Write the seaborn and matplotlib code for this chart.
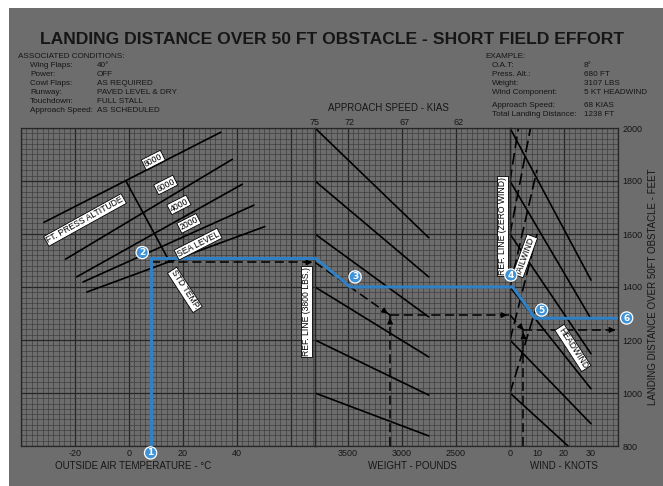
import numpy as np
import pandas as pd
import seaborn as sns
import matplotlib.pyplot as plt
from matplotlib.patches import Rectangle

# ---- values ----
temp_lim = (-40, 68.9)
weight_lim = (3800, 2000)
wind_lim = (0, 40)
dist_lim = (800, 2000)

alt_labels = ['8000', '6000', '4000', '2000', 'SEA LEVEL']
alt_t0 = [-31.5, -23.5, -19.4, -17.0, -15.6]
alt_d0 = [1644, 1505, 1438, 1419, 1381]
alt_t1 = [34.0, 38.3, 42.0, 46.3, 50.3]
alt_d1 = [1984, 1882, 1788, 1709, 1628]

std_temp_t = [-1.2, 15.0]
std_temp_d = [1801, 1496]

wt_d0 = [2000, 1800, 1600, 1400, 1200, 1000]
wt_w1 = 2750
wt_d1 = [1586, 1438, 1287, 1136, 992, 838]

head_d0 = [2000, 1800, 1600, 1400, 1200, 1000]
head_k1 = [30, 30, 30, 30, 30, 21.5]
head_d1 = [1426, 1280, 1148, 1016, 884, 800]

tail_d0 = [1800, 1600, 1400, 1200, 1000]
tail_k1 = [3.1, 7.6, 10, 10, 10]
tail_d1 = [2000, 2000, 1842, 1600, 1332]

temp_ticks = [-20, 0, 20, 40]
weight_ticks = [3500, 3000, 2500]
wind_ticks = [0, 10, 20, 30]
dist_ticks = [800, 1000, 1200, 1400, 1600, 1800, 2000]
kias_pos = [3800, 3480, 2975, 2475]
kias_labels = ['75', '72', '67', '62']

# worked example (dashed black) and plotted path (blue)
ex_oat, ex_weight, ex_wind = 8, 3107, 5
ex_d_temp, ex_d_weight, ex_d_total = 1493, 1294, 1238
blue_d_temp = 1510
blue_weight_knee = 3475
blue_d_weight = 1400
blue_wind_knee = [1, 9.3]
blue_d_total = 1282

conditions = [('Wing Flaps:', '40°'), ('Power:', 'OFF'), ('Cowl Flaps:', 'AS REQUIRED'),
              ('Runway:', 'PAVED LEVEL & DRY'), ('Touchdown:', 'FULL STALL'),
              ('Approach Speed:', 'AS SCHEDULED')]
example = [('O.A.T:', '8°'), ('Press. Alt.:', '680 FT'), ('Weight:', '3107 LBS'),
           ('Wind Component:', '5 KT HEADWIND')]
example2 = [('Approach Speed:', '68 KIAS'), ('Total Landing Distance:', '1238 FT')]

GREY = '#6d6d6d'
INK = '#161616'
BLUE = '#2f80c4'

sns.set_theme(style='white')
plt.rcParams['font.family'] = ['Liberation Sans', 'DejaVu Sans']
plt.rcParams['axes.unicode_minus'] = False

W, H = 663, 486
fig = plt.figure(figsize=(W / 100, H / 100), dpi=100)
fig.patch.set_facecolor('white')
fig.patches.append(Rectangle((9 / W, 0), 1, 1 - 8 / H, transform=fig.transFigure,
                             fc=GREY, ec='none', zorder=-10))

gs = fig.add_gridspec(1, 3, width_ratios=[294, 195, 108], left=21 / W, right=618 / W,
                      bottom=40 / H, top=358 / H, wspace=0)
ax_t = fig.add_subplot(gs[0])
ax_w = fig.add_subplot(gs[1], sharey=ax_t)
ax_k = fig.add_subplot(gs[2], sharey=ax_t)


def segments(x0, y0, x1, y1):
    rows = []
    for i, (a, b, c, d) in enumerate(zip(x0, y0, x1, y1)):
        rows += [dict(x=a, y=b, line=i), dict(x=c, y=d, line=i)]
    return pd.DataFrame(rows)


def grid(ax, major_x, minor_x):
    ax.vlines(minor_x, *dist_lim, color='#3a3a3a', lw=0.45, zorder=0)
    ax.vlines(major_x, *dist_lim, color='#262626', lw=0.9, zorder=0)
    ax.hlines(np.arange(800, 2001, 20), *ax.get_xlim(), color='#3a3a3a', lw=0.45, zorder=0)
    ax.hlines(np.arange(800, 2001, 200), *ax.get_xlim(), color='#262626', lw=0.9, zorder=0)


for ax, lim in [(ax_t, temp_lim), (ax_w, weight_lim), (ax_k, wind_lim)]:
    ax.set_facecolor(GREY)
    ax.set_xlim(*lim)
    ax.set_ylim(*dist_lim)
    for s in ax.spines.values():
        s.set_color('#262626')
        s.set_linewidth(0.9)
    ax.tick_params(length=0, labelsize=6.5, colors=INK, pad=2)

grid(ax_t, np.arange(-40, 69, 20), np.arange(-40, 69, 2))
grid(ax_w, np.arange(3500, 1999, -500), np.arange(3800, 1999, -50))
grid(ax_k, np.arange(0, 41, 20), np.arange(0, 41, 2))

line_kw = dict(estimator=None, units='line', sort=False, color='black', lw=1.2, legend=False)

# temperature panel
sns.lineplot(data=segments(alt_t0, alt_d0, alt_t1, alt_d1), x='x', y='y', ax=ax_t, **line_kw)
sns.lineplot(x=std_temp_t, y=std_temp_d, ax=ax_t, color='black', lw=1.2, sort=False)

# weight panel
n = len(wt_d0)
sns.lineplot(data=segments([weight_lim[0]] * n, wt_d0, [wt_w1] * n, wt_d1), x='x', y='y',
             ax=ax_w, **line_kw)
ax_w.axvline(weight_lim[0], color='black', lw=1.6)

# wind panel
n = len(head_d0)
sns.lineplot(data=segments([0] * n, head_d0, head_k1, head_d1), x='x', y='y', ax=ax_k, **line_kw)
n = len(tail_d0)
sns.lineplot(data=segments([0] * n, tail_d0, tail_k1, tail_d1), x='x', y='y', ax=ax_k, **line_kw)
for l in ax_k.lines[-n:]:
    l.set_linestyle((0, (7, 3)))
ax_k.axvline(0, color='black', lw=1.6)

for ax in (ax_t, ax_w, ax_k):
    ax.set_xlabel('')
    ax.set_ylabel('')


# dashed example path with arrowheads
def dashed(ax, xs, ys, arrow=True):
    ax.plot(xs, ys, color='black', lw=1.1, ls=(0, (6, 3)), zorder=4)
    if arrow:
        x0 = xs[-1] - (xs[-1] - xs[-2]) * 0.08
        y0 = ys[-1] - (ys[-1] - ys[-2]) * 0.08
        ax.annotate('', xy=(xs[-1], ys[-1]), xytext=(x0, y0),
                    arrowprops=dict(arrowstyle='-|>', color='black', lw=1, mutation_scale=8))


dashed(ax_t, [ex_oat, temp_lim[1]], [ex_d_temp, ex_d_temp])
dashed(ax_w, [weight_lim[0], ex_weight], [ex_d_temp, ex_d_weight])
dashed(ax_w, [ex_weight, ex_weight], [dist_lim[0], ex_d_weight])
dashed(ax_w, [ex_weight, weight_lim[1]], [ex_d_weight, ex_d_weight])
dashed(ax_k, [0, ex_wind], [ex_d_weight, ex_d_total])
dashed(ax_k, [ex_wind, ex_wind], [dist_lim[0], ex_d_total])
dashed(ax_k, [ex_wind, wind_lim[1]], [ex_d_total, ex_d_total])

# blue path
bkw = dict(color=BLUE, lw=2.2, zorder=6, solid_joinstyle='miter')
ax_t.plot([ex_oat, ex_oat, temp_lim[1]], [dist_lim[0], blue_d_temp, blue_d_temp], **bkw)
ax_w.plot([weight_lim[0], blue_weight_knee, weight_lim[1]],
          [blue_d_temp, blue_d_weight, blue_d_weight], **bkw)
ax_k.plot([0, blue_wind_knee[0], blue_wind_knee[1], wind_lim[1]],
          [blue_d_weight, blue_d_weight, blue_d_total, blue_d_total], **bkw)


def badge(ax, x, y, s):
    ax.text(x, y, s, ha='center', va='center', color='white', fontsize=6.5, fontweight='bold',
            family='DejaVu Sans', zorder=8, clip_on=False,
            bbox=dict(boxstyle='circle,pad=0.18', fc='#3f93d6', ec='white', lw=0.9))


badge(ax_t, ex_oat, 774, '1')
badge(ax_t, 4.9, 1530, '2')
badge(ax_w, 3430, 1438, '3')
badge(ax_k, 0.3, 1445, '4')
badge(ax_k, 11.7, 1313, '5')
badge(ax_k, 43.2, 1283, '6')


def tag(ax, x, y, s, rot):
    ax.text(x, y, s, ha='center', va='center', rotation=rot, rotation_mode='anchor',
            fontsize=6.2, color='black', zorder=7,
            bbox=dict(boxstyle='square,pad=0.12', fc='white', ec='black', lw=0.6))


for s, x, y in zip(alt_labels, [9, 13.6, 18.5, 22.2, 25.6], [1879, 1785, 1710, 1640, 1562]):
    tag(ax_t, x, y, s, 27)
tag(ax_t, -16.3, 1653, 'FT. PRESS ALTITUDE', 29)
tag(ax_t, 20.7, 1389, 'STD TEMP.', -57)
tag(ax_t, 65.7, 1306, 'REF. LINE (3800 LBS.)', 90)
tag(ax_w, 2065, 1630, 'REF. LINE (ZERO WIND)', 90)
tag(ax_k, 5.6, 1517, 'TAILWIND', 70)
tag(ax_k, 23.3, 1170, 'HEADWIND', -57)

# axes labels and ticks
ax_t.set_xticks(temp_ticks)
ax_w.set_xticks(weight_ticks)
ax_k.set_xticks(wind_ticks)
for ax in (ax_t, ax_w):
    ax.tick_params(axis='y', labelleft=False)
ax_k.tick_params(axis='y', labelleft=False, labelright=True, pad=3)
ax_k.set_yticks(dist_ticks)
ax_t.set_xlabel('OUTSIDE AIR TEMPERATURE - °C', fontsize=7, color=INK, labelpad=2)
ax_w.set_xlabel('WEIGHT - POUNDS', fontsize=7, color=INK, labelpad=2)
ax_k.set_xlabel('WIND - KNOTS', fontsize=7, color=INK, labelpad=2)
ax_k.yaxis.set_label_position('right')
ax_k.set_ylabel('LANDING DISTANCE OVER 50FT OBSTACLE - FEET', fontsize=7, color=INK,
                labelpad=4)
ax_t.xaxis.label.set_x(0.38)

top = ax_w.secondary_xaxis('top')
top.set_xticks(kias_pos, kias_labels)
top.tick_params(length=0, labelsize=6.5, colors=INK, pad=1)
top.spines['top'].set_visible(False)
fig.text(388 / W, 1 - 108 / H, 'APPROACH SPEED - KIAS', ha='center', va='center',
         fontsize=7, color=INK)

# header texts (baselines in pixels from the top)
fig.text(332 / W, 1 - 39 / H, 'LANDING DISTANCE OVER 50 FT OBSTACLE - SHORT FIELD EFFORT',
         ha='center', va='center', fontsize=12.6, fontweight='bold', color=INK)
hkw = dict(fontsize=5.9, color=INK, va='baseline')
fig.text(18 / W, 1 - 58 / H, 'ASSOCIATED CONDITIONS:', **hkw)
for i, (a, b) in enumerate(conditions):
    y = 1 - (67 + 9 * i) / H
    fig.text(30 / W, y, a, **hkw)
    fig.text(97 / W, y, b, **hkw)
fig.text(485 / W, 1 - 58 / H, 'EXAMPLE:', **hkw)
for i, (a, b) in enumerate(example):
    y = 1 - (67 + 9 * i) / H
    fig.text(492 / W, y, a, **hkw)
    fig.text(584 / W, y, b, **hkw)
for i, (a, b) in enumerate(example2):
    y = 1 - (107 + 9 * i) / H
    fig.text(492 / W, y, a, **hkw)
    fig.text(584 / W, y, b, **hkw)

fig.savefig('out.png', dpi=100, facecolor=fig.get_facecolor())
